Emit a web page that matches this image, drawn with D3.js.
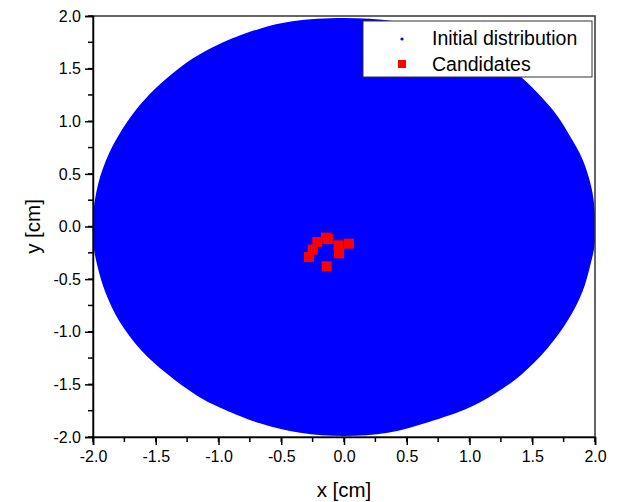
<!DOCTYPE html>
<html>
<head>
<meta charset="utf-8">
<script src="https://cdn.jsdelivr.net/npm/d3@7"></script>
<style>
  body { margin: 0; background: #fff; }
  svg { display: block; font-family: "Liberation Sans", Arial, sans-serif; }
</style>
</head>
<body>
<svg id="chart" width="625" height="502"></svg>
<script>
// ticks
var xTicks = [-2.0, -1.5, -1.0, -0.5, 0.0, 0.5, 1.0, 1.5, 2.0];
var yTicks = [-2.0, -1.5, -1.0, -0.5, 0.0, 0.5, 1.0, 1.5, 2.0];

// outline of the initial distribution
var edgeX = [0.0, -0.41, -0.67, -1.0, -1.2, -1.41, -1.6, -1.73, -1.87, -1.96, -2.0, -2.0, -1.96, -1.90, -1.79, -1.62, -1.41, -1.18, -0.99, -0.67, -0.35, 0.0, 0.35, 0.67, 1.0, 1.2, 1.41, 1.62, 1.79, 1.90, 1.96, 2.0, 2.0, 1.97, 1.90, 1.80, 1.70, 1.58, 1.42, 1.2, 0.98, 0.70, 0.40];
var edgeY = [1.98, 1.95, 1.88, 1.73, 1.60, 1.41, 1.19, 0.99, 0.70, 0.40, 0.10, -0.15, -0.40, -0.63, -0.90, -1.17, -1.40, -1.60, -1.72, -1.87, -1.96, -1.99, -1.96, -1.86, -1.72, -1.59, -1.41, -1.16, -0.88, -0.62, -0.38, -0.15, 0.12, 0.38, 0.64, 0.86, 1.05, 1.22, 1.41, 1.60, 1.74, 1.87, 1.95];

// candidates
var candX = [-0.138, -0.143, -0.127, -0.213, -0.249, -0.279, -0.044, 0.040, -0.040];
var candY = [-0.378, -0.105, -0.119, -0.147, -0.220, -0.290, -0.179, -0.163, -0.255];

var legendLabels = ["Initial distribution", "Candidates"];

var margin = {top: 16, right: 30, bottom: 65, left: 93};
var width = 625 - margin.left - margin.right,
    height = 502 - margin.top - margin.bottom;

var x = d3.scaleLinear().domain([-2, 2]).range([0, width]);
var y = d3.scaleLinear().domain([-2, 2]).range([height, 0]);

var svg = d3.select("#chart");
var g = svg.append("g").attr("transform", "translate(" + margin.left + "," + margin.top + ")");

g.append("clipPath").attr("id", "clip")
  .append("rect").attr("width", width).attr("height", height);

var plot = g.append("g").attr("clip-path", "url(#clip)");

var outline = edgeX.map(function(d, i) { return [d, edgeY[i]]; });
var line = d3.line()
  .x(function(d) { return x(d[0]); })
  .y(function(d) { return y(d[1]); })
  .curve(d3.curveCatmullRomClosed);

plot.append("path")
  .attr("d", line(outline))
  .attr("fill", "#0000ff");

var sq = 10;
plot.selectAll("rect.cand")
  .data(candX)
  .enter().append("rect")
  .attr("class", "cand")
  .attr("x", function(d) { return x(d) - sq / 2; })
  .attr("y", function(d, i) { return y(candY[i]) - sq / 2; })
  .attr("width", sq)
  .attr("height", sq)
  .attr("fill", "#ff0000");

// frame
g.append("rect")
  .attr("width", width).attr("height", height)
  .attr("fill", "none")
  .attr("stroke", "#333").attr("stroke-width", 1.5);

// legend
var leg = g.append("g").attr("transform", "translate(" + (363 - margin.left) + "," + (21 - margin.top) + ")");
leg.append("rect")
  .attr("width", 229).attr("height", 56)
  .attr("fill", "#fff").attr("stroke", "#333").attr("stroke-width", 1);
leg.append("circle").attr("cx", 39).attr("cy", 18).attr("r", 1.6).attr("fill", "#0000ff");
leg.append("rect").attr("x", 35).attr("y", 39).attr("width", 8).attr("height", 8).attr("fill", "#ff0000");
leg.selectAll("text")
  .data(legendLabels)
  .enter().append("text")
  .attr("x", 69)
  .attr("y", function(d, i) { return 24 + i * 25.5; })
  .attr("font-size", 19.5)
  .attr("fill", "#000")
  .text(function(d) { return d; });

// axes
var xMinor = d3.range(-2, 2.01, 0.25);
var fmt = function(d) { return d3.format(".1f")(d).replace("\u2212", "-"); };

function styleAxis(a) {
  a.select(".domain").attr("stroke-width", 1.5);
  a.selectAll(".tick line").attr("stroke-width", 1.5);
  a.selectAll(".tick text").attr("font-size", 16)
    .attr("font-family", "Liberation Sans, Arial, sans-serif").attr("fill", "#000");
}

var xAxis = g.append("g").attr("transform", "translate(0," + height + ")");
xAxis.selectAll("line.minor").data(xMinor).enter().append("line")
  .attr("x1", function(d) { return x(d); }).attr("x2", function(d) { return x(d); })
  .attr("y1", 0).attr("y2", 5).attr("stroke", "#000").attr("stroke-width", 1.5);
xAxis.call(d3.axisBottom(x).tickValues(xTicks).tickSize(8).tickPadding(6).tickFormat(fmt))
  .call(styleAxis);

var yAxis = g.append("g");
yAxis.selectAll("line.minor").data(xMinor).enter().append("line")
  .attr("y1", function(d) { return y(d); }).attr("y2", function(d) { return y(d); })
  .attr("x1", 0).attr("x2", -5).attr("stroke", "#000").attr("stroke-width", 1.5);
yAxis.call(d3.axisLeft(y).tickValues(yTicks).tickSize(8).tickPadding(4).tickFormat(fmt))
  .call(styleAxis);

g.append("text")
  .attr("x", width / 2).attr("y", height + 60)
  .attr("text-anchor", "middle").attr("font-size", 20.5)
  .text("x [cm]");

g.append("text")
  .attr("transform", "translate(" + (-53) + "," + (height / 2) + ") rotate(-90)")
  .attr("text-anchor", "middle").attr("font-size", 20.5)
  .text("y [cm]");
</script>
</body>
</html>
